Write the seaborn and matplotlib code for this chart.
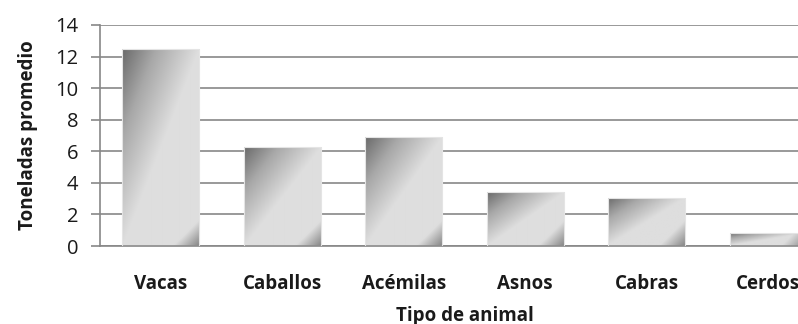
import numpy as np
import pandas as pd
import matplotlib
matplotlib.use("Agg")
import matplotlib.pyplot as plt
import seaborn as sns

# Average tonnage carried per type of animal
animals = ["Vacas", "Caballos", "Acémilas", "Asnos", "Cabras", "Cerdos"]
toneladas = [12.45, 6.25, 6.9, 3.4, 3.05, 0.85]
y_ticks = [0, 2, 4, 6, 8, 10, 12, 14]

sns.set_style("white")
plt.rcParams["font.family"] = ["Open Sans", "DejaVu Sans"]

W, H = 798, 324
fig = plt.figure(figsize=(W / 100, H / 100), dpi=100)
# the plotting area runs a little past the right edge of the canvas
ax = fig.add_axes([100 / W, 78 / H, 729 / W, 221 / H])

df = pd.DataFrame({"animal": animals, "toneladas": toneladas})
sns.barplot(data=df, x="animal", y="toneladas", color="#bbbbbb",
            width=0.634, ax=ax, zorder=2)
ax.set_xlim(-0.5, 5.5)
ax.set_ylim(0, 14)
ax.set_yticks(y_ticks)
ax.set_yticklabels([str(v) for v in y_ticks])

grid_c = "#878787"
ax.yaxis.grid(True, color=grid_c, lw=1.2)
ax.xaxis.grid(False)
ax.set_axisbelow(True)
for side in ("top", "right"):
    ax.spines[side].set_visible(False)
for side in ("left", "bottom"):
    ax.spines[side].set_color(grid_c)
    ax.spines[side].set_linewidth(1.2)

# diagonal grey shading inside each bar
fig.canvas.draw()
for patch in ax.patches:
    x0, y0 = patch.get_x(), patch.get_y()
    w, h = patch.get_width(), patch.get_height()
    (px0, py0), (px1, py1) = ax.transData.transform([(x0, y0), (x0 + w, y0 + h)])
    wp = max(int(round(px1 - px0)), 2)
    hp = max(int(round(py1 - py0)), 2)
    xx, yy = np.meshgrid(np.linspace(0, 1, wp), np.linspace(0, 1, hp))
    t = (xx + yy) / 2
    v = np.interp(t, [0, 0.22, 0.5, 1], [0.42, 0.66, 0.87, 0.87])
    d = (1 - xx) * wp + (1 - yy) * hp
    k = np.clip(1 - d / 26, 0, 1)
    v = v - (v - 0.52) * k
    im = ax.imshow(v, cmap="gray", vmin=0, vmax=1, origin="upper",
                   extent=(x0, x0 + w, y0, y0 + h), aspect="auto",
                   interpolation="bilinear", zorder=2)
    im.set_clip_path(patch)
    patch.set_facecolor("none")
    patch.set_edgecolor("#e4e4e4")
    patch.set_linewidth(0.8)
    patch.set_zorder(3)

ax.set_xlim(-0.5, 5.5)
ax.set_ylim(0, 14)

ax.tick_params(axis="y", length=6.5, width=1.2, color=grid_c, pad=9,
               labelsize=14.5, labelcolor="#1a1a1a", left=True)
ax.tick_params(axis="x", length=0, pad=20, labelsize=13.5, labelcolor="#1a1a1a")
for lab in ax.get_xticklabels():
    lab.set_fontweight("bold")

ax.set_xlabel("Tipo de animal", fontsize=13.5, fontweight="bold", color="#1a1a1a")
ax.set_ylabel("Toneladas promedio", fontsize=13.5, fontweight="bold", color="#1a1a1a")
ax.xaxis.set_label_coords(0.5, -0.27)
ax.yaxis.set_label_coords(-0.085, 0.5)

fig.savefig("out.png", dpi=100)
